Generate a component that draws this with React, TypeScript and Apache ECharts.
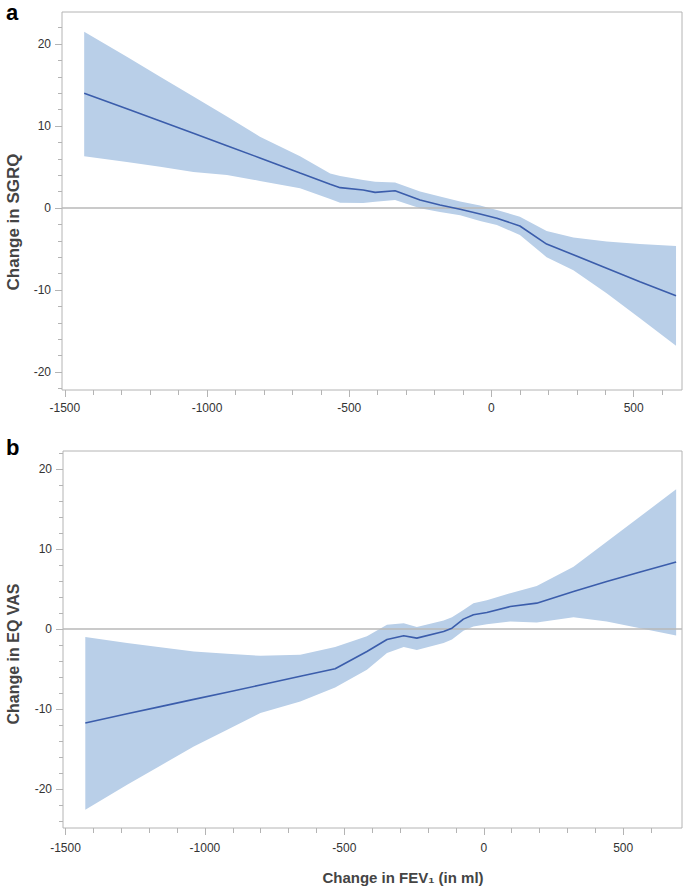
import React, { useEffect, useRef } from "react";
import * as echarts from "echarts";

// Panel a: Change in SGRQ vs change in FEV1
const sgrqX = [-1432, -1282, -1165, -1048, -930, -814, -673, -567, -532, -451, -409, -339, -251, -181, -110, -40, 19, 100, 194, 288, 405, 522, 649];
const sgrqLine = [14.0, 12.1, 10.6, 9.1, 7.6, 6.1, 4.25, 2.9, 2.48, 2.2, 1.9, 2.1, 0.98, 0.37, -0.16, -0.73, -1.26, -2.2, -4.4, -5.7, -7.35, -9.0, -10.7];
const sgrqUpper = [21.5, 18.45, 16.0, 13.6, 11.15, 8.7, 6.3, 4.2, 3.9, 3.4, 3.2, 3.1, 2.0, 1.4, 0.8, 0.3, -0.24, -1.06, -2.8, -3.6, -4.1, -4.4, -4.63];
const sgrqLower = [6.3, 5.6, 5.04, 4.4, 4.02, 3.3, 2.4, 1.1, 0.65, 0.6, 0.75, 0.98, -0.04, -0.5, -0.9, -1.6, -2.07, -3.3, -6.0, -7.6, -10.4, -13.45, -16.8];

// Panel b: Change in EQ VAS vs change in FEV1
const vasX = [-1429, -1279, -1160, -1040, -920, -801, -658, -533, -419, -347, -287, -240, -144, -114, -73, -37, 11, 95, 190, 322, 441, 561, 690];
const vasLine = [-11.75, -10.6, -9.7, -8.8, -7.9, -7.0, -5.9, -4.97, -2.8, -1.3, -0.84, -1.13, -0.3, 0.12, 1.25, 1.8, 2.08, 2.83, 3.25, 4.7, 5.95, 7.15, 8.4];
const vasUpper = [-1.0, -1.75, -2.27, -2.8, -3.07, -3.34, -3.2, -2.25, -0.9, 0.54, 0.75, 0.25, 1.08, 1.5, 2.4, 3.25, 3.6, 4.5, 5.4, 7.8, 10.95, 14.1, 17.5];
const vasLower = [-22.6, -19.5, -17.1, -14.7, -12.6, -10.5, -9.05, -7.3, -5.1, -3.0, -2.25, -2.6, -1.75, -1.3, -0.2, 0.33, 0.6, 0.95, 0.83, 1.5, 0.95, 0.12, -0.8];

// Tick values
const xMajorTicks = [-1500, -1000, -500, 0, 500];
const xMinorTicks = [-1400, -1300, -1200, -1100, -900, -800, -700, -600, -400, -300, -200, -100, 100, 200, 300, 400, 600];
const yMajorTicks = [-20, -10, 0, 10, 20];
const yMinorTicksA = [-22, -18, -16, -14, -12, -8, -6, -4, -2, 2, 4, 6, 8, 12, 14, 16, 18, 22];
const yMinorTicksB = [-24, -22, -18, -16, -14, -12, -8, -6, -4, -2, 2, 4, 6, 8, 12, 14, 16, 18, 22];

const FONT = "Liberation Sans, Arial, sans-serif";
const AXIS_GRAY = "#b4b4b4";
const TEXT = "#333";
const BAND = "#b9cfe8";
const LINE = "#3b5dab";

function pairs(xs: number[], ys: number[]) {
  return xs.map((x, i) => [x, ys[i]]);
}

function xAxes(grid: number, min: number, max: number, margin: number) {
  return [
    {
      type: "value", gridIndex: grid, position: "bottom", min, max,
      axisLine: { show: false, onZero: false },
      axisTick: { show: true, length: 7, customValues: xMajorTicks, lineStyle: { color: AXIS_GRAY } },
      axisLabel: {
        customValues: xMajorTicks, margin, fontSize: 12, fontFamily: FONT, color: TEXT,
        formatter: (v: number) => String(v),
      },
      splitLine: { show: false },
    },
    {
      type: "value", gridIndex: grid, position: "bottom", min, max,
      axisLine: { show: false, onZero: false },
      axisTick: { show: true, length: 5, customValues: xMinorTicks, lineStyle: { color: AXIS_GRAY } },
      axisLabel: { show: false },
      splitLine: { show: false },
    },
  ];
}

function yAxes(grid: number, min: number, max: number, minor: number[]) {
  return [
    {
      type: "value", gridIndex: grid, position: "left", min, max,
      axisLine: { show: false, onZero: false },
      axisTick: { show: true, length: 7, customValues: yMajorTicks, lineStyle: { color: AXIS_GRAY } },
      axisLabel: {
        customValues: yMajorTicks, margin: 11, fontSize: 12, fontFamily: FONT, color: TEXT,
        formatter: (v: number) => String(v),
      },
      splitLine: { show: false },
    },
    {
      type: "value", gridIndex: grid, position: "left", min, max,
      axisLine: { show: false, onZero: false },
      axisTick: { show: true, length: 4, customValues: minor, lineStyle: { color: AXIS_GRAY } },
      axisLabel: { show: false },
      splitLine: { show: false },
    },
  ];
}

function panelSeries(
  xIdx: number, yIdx: number,
  xs: number[], line: number[], upper: number[], lower: number[]
) {
  return [
    {
      type: "custom", xAxisIndex: xIdx, yAxisIndex: yIdx, z: 2, silent: true,
      data: pairs(xs, upper),
      renderItem: (params: any, api: any) => {
        if (params.dataIndex !== 0) return null;
        const top = xs.map((x, i) => api.coord([x, upper[i]]));
        const bottom = xs.map((x, i) => api.coord([x, lower[i]])).reverse();
        return {
          type: "polygon",
          shape: { points: top.concat(bottom) },
          style: { fill: BAND, stroke: "none" },
        };
      },
    },
    {
      type: "line", xAxisIndex: xIdx, yAxisIndex: yIdx,
      data: [], symbol: "none", z: 3,
      markLine: {
        silent: true, symbol: "none", z: 3,
        label: { show: false },
        lineStyle: { color: "#b8b8b8", width: 1.5, type: "solid" },
        data: [{ yAxis: 0 }],
      },
    },
    {
      type: "line", xAxisIndex: xIdx, yAxisIndex: yIdx,
      data: pairs(xs, line), symbol: "none",
      lineStyle: { color: LINE, width: 1.6 }, z: 4,
    },
  ];
}

export default function App() {
  const ref = useRef<HTMLDivElement>(null);
  useEffect(() => {
    const chart = echarts.init(ref.current!, null, { renderer: "svg" });
    const option: any = {
      animation: false,
      backgroundColor: "#fff",
      grid: [
        { left: 62, top: 12, width: 620, height: 378, show: true, borderColor: AXIS_GRAY, borderWidth: 1 },
        { left: 63, top: 451, width: 619, height: 377, show: true, borderColor: AXIS_GRAY, borderWidth: 1 },
      ],
      xAxis: [...xAxes(0, -1510, 670, 12), ...xAxes(1, -1509, 711, 14)],
      yAxis: [...yAxes(0, -22.2, 23.9, yMinorTicksA), ...yAxes(1, -24.9, 22.3, yMinorTicksB)],
      series: [
        ...panelSeries(0, 0, sgrqX, sgrqLine, sgrqUpper, sgrqLower),
        ...panelSeries(2, 2, vasX, vasLine, vasUpper, vasLower),
      ],
      graphic: [
        { type: "text", left: 6, top: 1, style: { text: "a", font: `bold 22px ${FONT}`, fill: "#000" } },
        { type: "text", left: 6, top: 436, style: { text: "b", font: `bold 22px ${FONT}`, fill: "#000" } },
        {
          type: "text", x: 13, y: 222, rotation: Math.PI / 2,
          style: { text: "Change in SGRQ", font: `bold 17px ${FONT}`, fill: "#444", align: "center", verticalAlign: "middle" },
        },
        {
          type: "text", x: 13, y: 654, rotation: Math.PI / 2,
          style: { text: "Change in EQ VAS", font: `bold 16px ${FONT}`, fill: "#444", align: "center", verticalAlign: "middle" },
        },
        {
          type: "text", x: 403, y: 877,
          style: { text: "Change in FEV₁ (in ml)", font: `bold 15px ${FONT}`, fill: "#444", align: "center", verticalAlign: "middle" },
        },
      ],
    };
    chart.setOption(option);
    return () => chart.dispose();
  }, []);
  return (
    <div
      ref={ref}
      style={{ position: "fixed", left: 0, top: 0, width: 685, height: 886, background: "#fff" }}
    />
  );
}
